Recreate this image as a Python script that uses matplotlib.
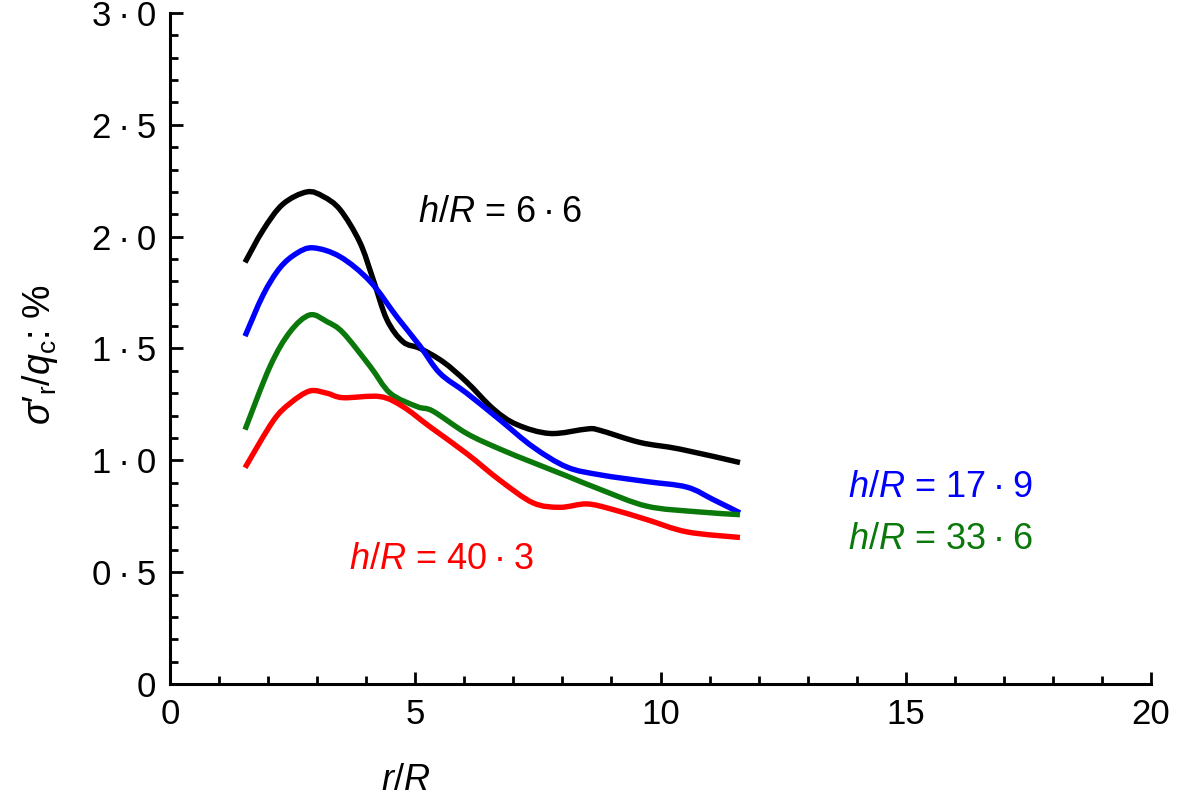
import matplotlib
matplotlib.use("Agg")
import numpy as np
import matplotlib.pyplot as plt
from matplotlib.ticker import MultipleLocator, FuncFormatter
from matplotlib.path import Path
from matplotlib.patches import PathPatch

plt.rcParams['font.family'] = ['Liberation Sans', 'DejaVu Sans']
plt.rcParams['mathtext.fontset'] = 'custom'
plt.rcParams['mathtext.rm'] = 'Liberation Sans'
plt.rcParams['mathtext.it'] = 'Liberation Sans:italic'
plt.rcParams['mathtext.cal'] = 'Liberation Sans:italic'

# ---- data ----
x_66 = [1.53, 1.90, 2.30, 2.79, 3.12, 3.47, 3.87, 4.14, 4.42, 4.75, 5.10, 5.57, 6.05, 6.59, 7.07, 7.75, 8.50, 8.75, 9.58, 10.40, 11.62]
y_66 = [1.885, 2.03, 2.145, 2.20, 2.18, 2.12, 1.975, 1.81, 1.63, 1.53, 1.50, 1.44, 1.35, 1.23, 1.16, 1.12, 1.14, 1.135, 1.08, 1.05, 0.99]

x_179 = [1.53, 1.90, 2.24, 2.58, 2.92, 3.47, 4.08, 4.63, 5.10, 5.50, 6.05, 6.73, 7.40, 8.09, 8.77, 9.72, 10.54, 11.07, 11.62]
y_179 = [1.555, 1.74, 1.86, 1.925, 1.95, 1.91, 1.80, 1.64, 1.51, 1.39, 1.30, 1.18, 1.06, 0.97, 0.935, 0.905, 0.88, 0.825, 0.765]

x_336 = [1.53, 2.04, 2.45, 2.85, 3.20, 3.53, 4.08, 4.49, 5.04, 5.36, 6.05, 6.73, 7.40, 8.09, 8.77, 9.72, 10.74, 11.62]
y_336 = [1.137, 1.42, 1.575, 1.65, 1.62, 1.57, 1.42, 1.30, 1.24, 1.22, 1.12, 1.05, 0.99, 0.93, 0.87, 0.795, 0.77, 0.757]

x_403 = [1.53, 2.10, 2.45, 2.85, 3.20, 3.53, 4.28, 4.75, 5.30, 6.05, 6.73, 7.40, 7.95, 8.50, 9.03, 9.72, 10.54, 11.62]
y_403 = [0.967, 1.175, 1.255, 1.31, 1.30, 1.28, 1.285, 1.24, 1.15, 1.03, 0.91, 0.81, 0.79, 0.805, 0.78, 0.735, 0.68, 0.655]

series_labels = ["6·6", "17·9", "33·6", "40·3"]
series_colors = ["black", "#0000ff", "#0a780a", "#ff0000"]
label_pos = [(5.06, 2.11), (13.82, 0.88), (13.82, 0.645), (3.65, 0.555)]


def smooth_path(xs, ys):
    """Smoothed line (Catmull-Rom drawn as cubic Bezier segments) through the data points."""
    P = np.column_stack([xs, ys]).astype(float)
    n = len(P)
    verts = [P[0]]
    codes = [Path.MOVETO]
    for i in range(n - 1):
        p0 = P[i - 1] if i > 0 else P[i]
        p1 = P[i]
        p2 = P[i + 1]
        p3 = P[i + 2] if i + 2 < n else P[i + 1]
        c1 = p1 + (p2 - p0) / 6.0
        c2 = p2 - (p3 - p1) / 6.0
        verts += [c1, c2, p2]
        codes += [Path.CURVE4] * 3
    return Path(verts, codes)


fig = plt.figure(figsize=(11.97, 7.97), dpi=100)
ax = fig.add_axes([0.142, 0.1418, 0.8196, 0.8419])

for xs, ys, c in zip([x_66, x_179, x_336, x_403], [y_66, y_179, y_336, y_403], series_colors):
    patch = PathPatch(smooth_path(xs, ys), fill=False, edgecolor=c, lw=3.9,
                      capstyle='butt', joinstyle='round')
    ax.add_patch(patch)

for lab, c, (tx, ty) in zip(series_labels, series_colors, label_pos):
    ax.text(tx, ty, r"$h$/$R$ = " + lab.replace("·", "\u2009·\u2009"),
            color=c, fontsize=26, ha='left', va='center')

ax.set_xlim(0, 20)
ax.set_ylim(0, 3.0)
ax.spines['top'].set_visible(False)
ax.spines['right'].set_visible(False)
for s in ['left', 'bottom']:
    ax.spines[s].set_linewidth(2.2)

ax.xaxis.set_major_locator(MultipleLocator(5))
ax.xaxis.set_minor_locator(MultipleLocator(1))
ax.yaxis.set_major_locator(MultipleLocator(0.5))
ax.yaxis.set_minor_locator(MultipleLocator(0.1))


def fmt(v, pos):
    if abs(v) < 1e-9:
        return "0"
    s = f"{v:.1f}"
    return s.replace(".", "\u2009·\u2009")


ax.yaxis.set_major_formatter(FuncFormatter(fmt))
ax.xaxis.set_major_formatter(FuncFormatter(lambda v, p: f"{v:.0f}"))

ax.tick_params(which='both', direction='in', width=2.0)
ax.tick_params(which='major', length=9, labelsize=25, pad=10)
ax.tick_params(which='minor', length=6)

ax.set_xlabel(r"$r$/$R$", fontsize=26)
ax.xaxis.set_label_coords(0.24, -0.118)
ax.set_ylabel(r"$\sigma\mathrm{′}_{\mathrm{r}}$/$q_{\mathrm{c}}$: %", fontsize=27)
ax.yaxis.set_label_coords(-0.112, 0.49)

fig.savefig("out.png", dpi=100)
